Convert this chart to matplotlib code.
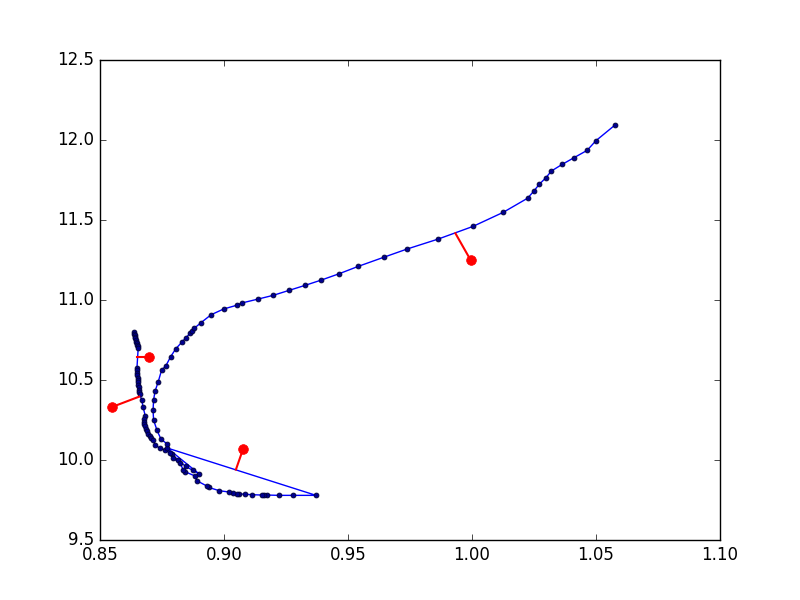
import numpy as np
import matplotlib
matplotlib.use("Agg")
import matplotlib.pyplot as plt

# track points, in the order they are joined
track_x = [0.8638, 0.8639, 0.8640, 0.8641, 0.8643, 0.8644, 0.8646, 0.8648, 0.8650, 0.8652, 0.8654,
           0.8649, 0.8649, 0.8650, 0.8651, 0.8652, 0.8653, 0.8654, 0.8655, 0.8656, 0.8657, 0.8659, 0.8661,
           0.8668, 0.8674, 0.8683,
           0.8678, 0.8676, 0.8677, 0.8680, 0.8684, 0.8689, 0.8694, 0.8700, 0.8707, 0.8715,
           0.8722, 0.8742, 0.8762,
           0.8790, 0.8815, 0.8845, 0.8875, 0.8900,
           0.8771,
           0.9371, 0.9279, 0.9222, 0.9172, 0.9161, 0.9153, 0.9114, 0.9085, 0.9061, 0.9051, 0.9037,
           0.9020, 0.8981, 0.8938, 0.8930, 0.8890, 0.8883, 0.8843, 0.8836, 0.8823, 0.8796, 0.8782,
           0.8771, 0.8746, 0.8730, 0.8716, 0.8714, 0.8716, 0.8722, 0.8735, 0.8748, 0.8766, 0.8785,
           0.8805, 0.8832, 0.8847, 0.8863, 0.8872, 0.8880, 0.8907, 0.8948, 0.8999, 0.9051, 0.9071,
           0.9138, 0.9198, 0.9262, 0.9328, 0.9393, 0.9464, 0.9541, 0.9644, 0.9739, 0.9864, 1.0004,
           1.0126, 1.0224, 1.0249, 1.0271, 1.0298, 1.0320, 1.0364, 1.0412, 1.0464, 1.0500, 1.0577]
track_y = [10.800, 10.790, 10.780, 10.770, 10.760, 10.750, 10.740, 10.730, 10.720, 10.710, 10.700,
           10.575, 10.560, 10.545, 10.530, 10.515, 10.500, 10.485, 10.470, 10.455, 10.440, 10.425, 10.410,
           10.375, 10.330, 10.272,
           10.255, 10.240, 10.225, 10.210, 10.195, 10.180, 10.165, 10.150, 10.137, 10.125,
           10.094, 10.073, 10.063,
           10.035, 10.000, 9.960, 9.935, 9.913,
           10.075,
           9.779, 9.779, 9.779, 9.781, 9.781, 9.781, 9.783, 9.786, 9.788, 9.789, 9.794,
           9.800, 9.808, 9.829, 9.838, 9.871, 9.900, 9.927, 9.938, 9.979, 10.010, 10.042,
           10.100, 10.130, 10.185, 10.250, 10.310, 10.375, 10.430, 10.490, 10.560, 10.590, 10.646,
           10.694, 10.740, 10.765, 10.792, 10.808, 10.823, 10.858, 10.908, 10.944, 10.967, 10.981,
           11.006, 11.029, 11.060, 11.092, 11.125, 11.164, 11.210, 11.267, 11.319, 11.381, 11.460,
           11.548, 11.636, 11.680, 11.723, 11.764, 11.806, 11.848, 11.890, 11.935, 11.996, 12.094]

# observed points and their closest points on the track
obs_x = [0.8699, 0.8548, 0.9077, 0.9995]
obs_y = [10.642, 10.331, 10.069, 11.248]
near_x = [0.8650, 0.8658, 0.9048, 0.9933]
near_y = [10.642, 10.396, 9.940, 11.417]

plt.style.use('classic')
fig = plt.figure(figsize=(8, 6), dpi=100)
ax = fig.add_subplot(111)

ax.plot(track_x, track_y, '-', color='b', lw=1.0, marker='o', ms=3.5,
        mfc='#000090', mec='#000033', mew=0.6)
for i in range(len(obs_x)):
    ax.plot([obs_x[i], near_x[i]], [obs_y[i], near_y[i]], 'r-', lw=1.5)
ax.plot(obs_x, obs_y, 'o', color='r', mec='r', ms=7)

ax.set_xlim(0.85, 1.10)
ax.set_ylim(9.5, 12.5)
ax.set_xticks(np.arange(0.85, 1.101, 0.05))
ax.set_yticks(np.arange(9.5, 12.51, 0.5))

fig.savefig('out.png', dpi=100)
